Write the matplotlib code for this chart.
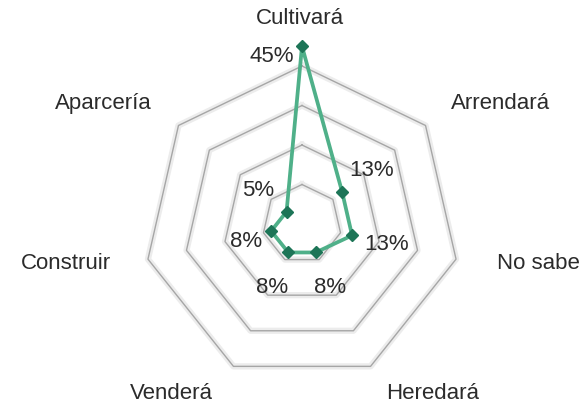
import matplotlib as mpl
mpl.use('Agg')
import matplotlib.pyplot as plt
import numpy as np

categories = ['Cultivará', 'Arrendará', 'No sabe', 'Heredará',
              'Venderá', 'Construir', 'Aparcería']
values = [0.45, 0.13, 0.13, 0.08, 0.08, 0.08, 0.05]
value_labels = ['45%', '13%', '13%', '8%', '8%', '8%', '5%']
rings = [0.1, 0.2, 0.3, 0.4]

# label offsets (pixels)
cat_offsets = [(-2, 48), (75, 22), (82, -4), (62, -27),
               (-62, -27), (-82, -4), (-75, 22)]
val_offsets = [(-30, -10), (29, 21), (34, -9), (14, -35),
               (-16, -35), (-25, -10), (-28, 21)]

plt.rcParams['font.family'] = ['Liberation Sans', 'DejaVu Sans']

W, H = 584, 404
fig = plt.figure(figsize=(W / 100, H / 100), dpi=100)
cx, cy, rpx = 302, 224, 185.65
ax = fig.add_axes([(cx - rpx) / W, (H - cy - rpx) / H, 2 * rpx / W, 2 * rpx / H],
                  projection='polar')
ax.set_theta_zero_location('N')
ax.set_theta_direction(-1)
ax.set_ylim(0, 0.47)
ax.axis('off')

n = len(categories)
theta = np.arange(n) * 2 * np.pi / n
tc = np.append(theta, theta[0])

for r in rings:
    ax.plot(tc, [r] * (n + 1), color='#ececec', lw=4.5, zorder=1)
    ax.plot(tc, [r] * (n + 1), color='#a6a6a6', lw=1.0, zorder=2)

vc = values + values[:1]
ax.plot(tc, vc, color='#4fb089', lw=2.7, zorder=3, clip_on=False)
ax.plot(theta, values, linestyle='None', marker='D', markersize=6,
        color='#1d7557', zorder=4, clip_on=False)

for t, v, lab, off in zip(theta, values, value_labels, val_offsets):
    ax.annotate(lab, xy=(t, v), xytext=off, textcoords='offset pixels',
                ha='center', va='center', fontsize=16, color='#2b2b2b',
                annotation_clip=False)

for t, lab, off in zip(theta, categories, cat_offsets):
    ax.annotate(lab, xy=(t, rings[-1]), xytext=off, textcoords='offset pixels',
                ha='center', va='center', fontsize=16, color='#2b2b2b',
                annotation_clip=False)

fig.savefig('out.png', dpi=100)
